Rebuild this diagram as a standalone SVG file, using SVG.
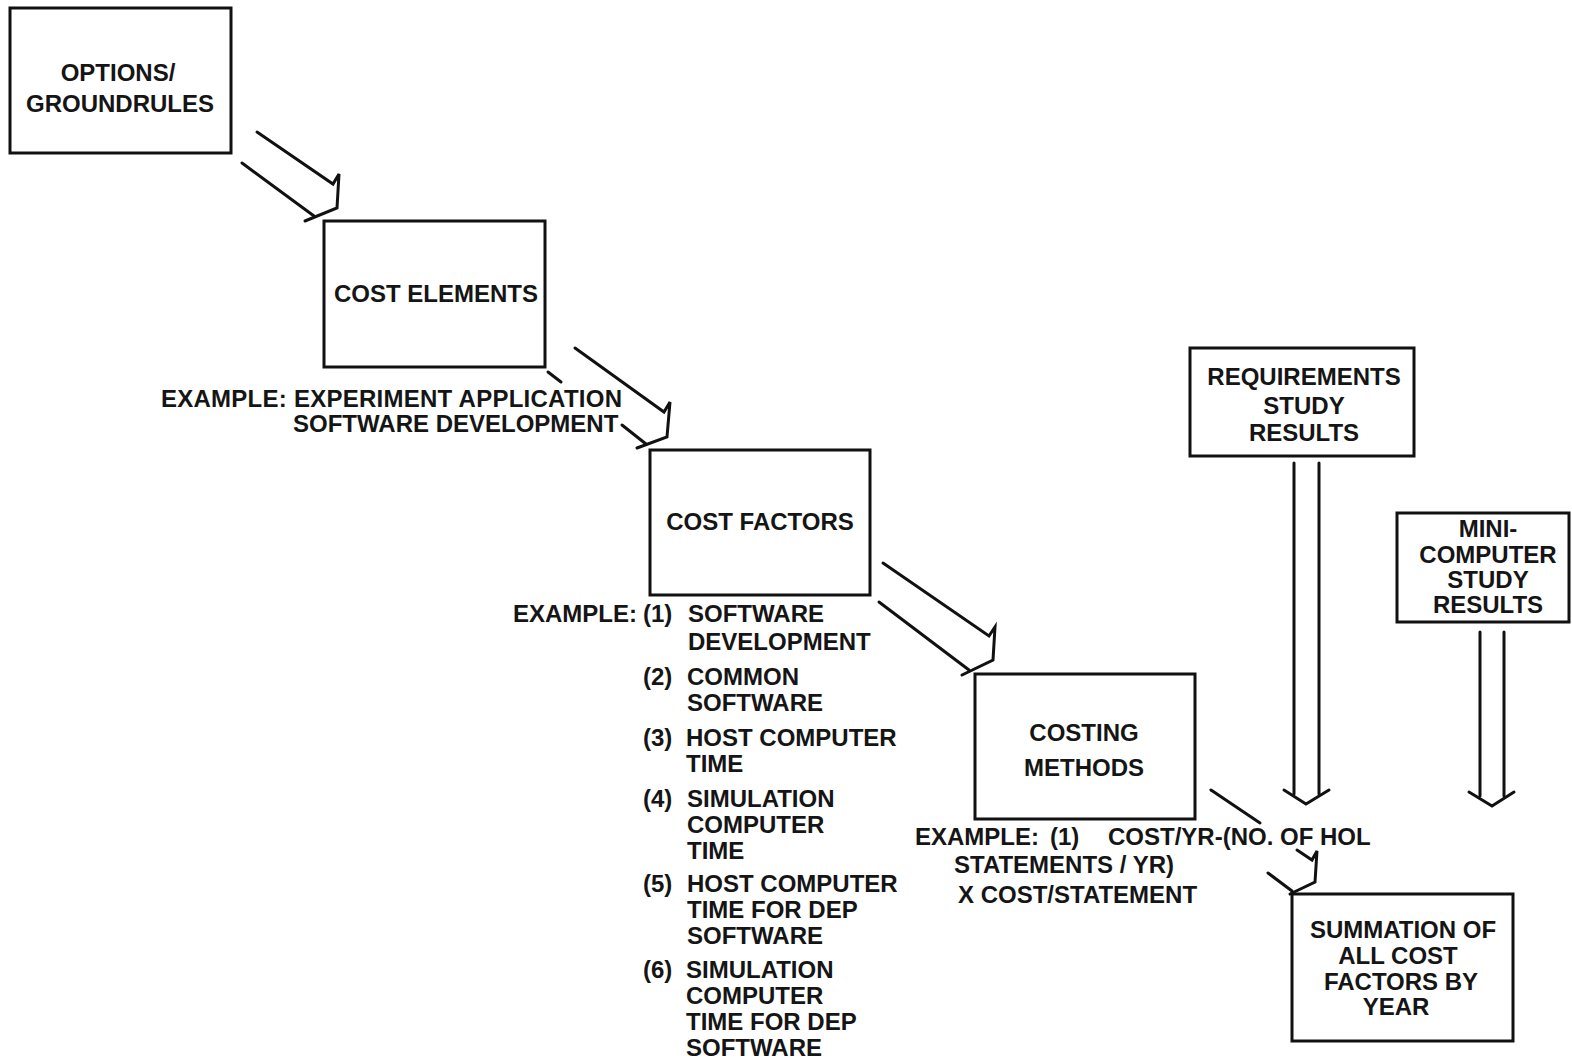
<svg xmlns="http://www.w3.org/2000/svg" width="1572" height="1061" viewBox="0 0 1572 1061">
<style>
.box{fill:none;stroke:#111;stroke-width:3}
.ln{fill:none;stroke:#111;stroke-width:3;stroke-linejoin:miter;stroke-linecap:round}
text{font-family:"Liberation Sans",Arial,sans-serif;font-size:24px;font-weight:bold;fill:#151515}
.c{text-anchor:middle}
</style>
<rect x="0" y="0" width="1572" height="1061" fill="#ffffff"/>
<g id="node-options">
<rect class="box" x="10" y="8" width="221" height="145"/>
<text class="c" x="118" y="81">OPTIONS/</text>
<text class="c" x="120" y="112">GROUNDRULES</text>
</g>
<g id="node-cost-elements">
<rect class="box" x="324" y="221" width="221" height="146"/>
<text class="c" x="436" y="302">COST ELEMENTS</text>
<text x="161" y="407" textLength="461">EXAMPLE: EXPERIMENT APPLICATION</text>
<text x="293" y="432">SOFTWARE DEVELOPMENT</text>
</g>
<g id="node-cost-factors">
<rect class="box" x="650" y="450" width="220" height="145"/>
<text class="c" x="760" y="530">COST FACTORS</text>
<text x="513" y="622">EXAMPLE:</text>
<text x="643" y="622">(1)</text><text x="688" y="622">SOFTWARE</text>
<text x="688" y="650">DEVELOPMENT</text>
<text x="643" y="685">(2)</text><text x="687" y="685">COMMON</text>
<text x="687" y="711">SOFTWARE</text>
<text x="643" y="746">(3)</text><text x="686" y="746">HOST COMPUTER</text>
<text x="686" y="772">TIME</text>
<text x="643" y="807">(4)</text><text x="687" y="807">SIMULATION</text>
<text x="687" y="833">COMPUTER</text>
<text x="687" y="859">TIME</text>
<text x="643" y="892">(5)</text><text x="687" y="892">HOST COMPUTER</text>
<text x="687" y="918">TIME FOR DEP</text>
<text x="687" y="944">SOFTWARE</text>
<text x="643" y="978">(6)</text><text x="686" y="978">SIMULATION</text>
<text x="686" y="1004">COMPUTER</text>
<text x="686" y="1030">TIME FOR DEP</text>
<text x="686" y="1056">SOFTWARE</text>
</g>
<g id="node-costing-methods">
<rect class="box" x="975" y="674" width="220" height="145"/>
<text class="c" x="1084" y="741">COSTING</text>
<text class="c" x="1084" y="776">METHODS</text>
<text x="915" y="845">EXAMPLE:</text>
<text x="1050" y="845">(1)</text>
<text x="1108" y="845">COST/YR-(NO. OF HOL</text>
<text x="954" y="873">STATEMENTS / YR)</text>
<text x="958" y="903">X COST/STATEMENT</text>
</g>
<g id="node-requirements">
<rect class="box" x="1190" y="348" width="224" height="108"/>
<text class="c" x="1304" y="385">REQUIREMENTS</text>
<text class="c" x="1304" y="414">STUDY</text>
<text class="c" x="1304" y="441">RESULTS</text>
</g>
<g id="node-minicomputer">
<rect class="box" x="1397" y="513" width="172" height="109"/>
<text class="c" x="1488" y="537">MINI-</text>
<text class="c" x="1488" y="563">COMPUTER</text>
<text class="c" x="1488" y="588">STUDY</text>
<text class="c" x="1488" y="613">RESULTS</text>
</g>
<g id="node-summation">
<rect class="box" x="1292" y="894" width="221" height="147"/>
<text class="c" x="1403" y="938">SUMMATION OF</text>
<text class="c" x="1398" y="964">ALL COST</text>
<text class="c" x="1401" y="990">FACTORS BY</text>
<text class="c" x="1396" y="1015">YEAR</text>
</g>
<g id="connectors">
<polyline class="ln" points="257,132 333,184 339,174 337,208 305,221"/>
<polyline class="ln" points="242,163 314,216"/>
<polyline class="ln" points="575,348 664,412 670,402 667,437 637,448"/>
<polyline class="ln" points="548,372 561,382"/>
<polyline class="ln" points="622,425 646,444"/>
<polyline class="ln" points="883,563 989,636 995,627 993,660 962,675"/>
<polyline class="ln" points="879,602 969,670"/>
<polyline class="ln" points="1211,790 1260,823"/>
<polyline class="ln" points="1297,850 1312,860 1317,851 1315,882 1290,894"/>
<polyline class="ln" points="1268,873 1292,891"/>
<polyline class="ln" points="1294,463 1294,794"/>
<polyline class="ln" points="1319,463 1319,794"/>
<polyline class="ln" points="1284,790 1306,804 1329,790"/>
<polyline class="ln" points="1480,632 1480,796"/>
<polyline class="ln" points="1504,632 1504,796"/>
<polyline class="ln" points="1469,792 1492,806 1514,792"/>
</g>
</svg>
